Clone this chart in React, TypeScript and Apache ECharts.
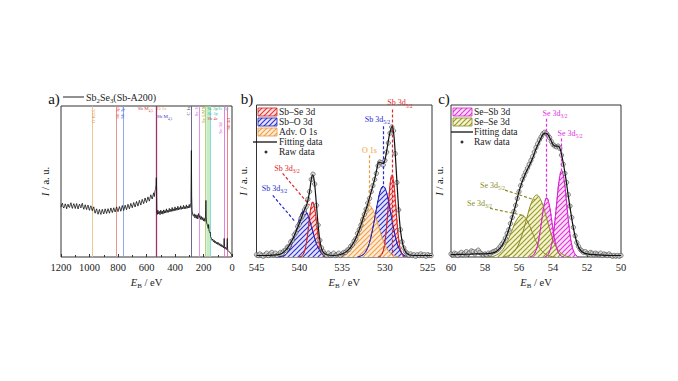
import React, { useEffect, useRef } from 'react';
import * as echarts from 'echarts';

const SERIF = '"Liberation Serif", "Times New Roman", serif';

// ---------- Panel a: survey ----------
const surveyData: [number, number][] = [
  [1200,33.0],[1195,34.9],[1190,35.6],[1185,33.2],[1180,32.4],[1175,34.0],[1170,35.2],[1165,33.6],[1160,31.9],[1155,34.4],[1150,35.0],[1145,33.1],[1140,32.8],[1135,34.7],[1130,35.9],[1125,33.4],[1120,32.2],[1115,34.1],[1110,35.3],[1105,33.8],
  [1100,32.1],[1095,34.0],[1090,35.4],[1085,33.0],[1080,31.8],[1075,33.9],[1070,35.0],[1065,33.5],[1060,32.5],[1055,34.8],[1050,35.6],[1045,33.0],[1040,31.6],[1035,33.3],[1030,34.6],[1025,32.6],[1020,31.4],[1015,33.5],[1010,34.4],[1005,32.1],
  [1000,30.9],[995,32.8],[990,33.9],[985,31.9],[980,30.6],[975,32.3],[970,33.2],[965,30.4],[960,29.0],[955,30.8],[950,31.9],[945,29.6],[940,28.3],[935,30.1],[930,31.5],[925,29.4],[920,28.2],[915,30.3],[910,31.6],[905,29.8],
  [900,28.5],[890,31.9],[880,28.8],[870,32.0],[860,29.0],[850,32.5],[840,29.4],[830,32.6],[820,29.8],[810,33.2],
  [800,30.0],[790,33.4],[780,30.3],[770,34.1],[760,30.8],[750,34.3],[740,31.3],[730,34.9],[720,31.9],[710,35.5],
  [700,32.6],[690,36.1],[680,33.1],[670,36.8],[660,33.7],[650,37.5],[640,34.4],[630,38.2],[620,35.3],[610,39.1],
  [600,36.0],[590,39.8],[580,37.0],[570,41.2],[560,38.4],[550,42.5],[545,40.0],[540,44.0],[536,44.5],[533,48.0],
  [531,52.5],[529,45.0],[527,30.5],[524,28.2],[520,31.0],[515,28.6],[510,30.2],[505,28.0],[500,31.0],[495,28.7],[490,30.4],[485,28.4],[480,31.2],[475,29.0],[470,30.8],[465,29.2],
  [460,31.9],[455,29.5],[450,31.0],[445,29.6],[440,32.2],[435,29.9],[430,31.6],[425,30.2],[420,32.8],[415,30.3],[410,31.9],[405,30.6],[400,33.2],[395,30.8],[390,32.4],[385,31.0],[380,33.6],[375,31.2],[370,32.7],[365,31.5],
  [360,33.9],[355,31.6],[350,33.0],[345,31.8],[340,34.2],[335,31.9],[330,33.4],[325,32.0],[320,34.5],[315,32.2],[310,33.7],[305,32.5],[300,34.8],[296,32.6],[292,33.8],[288,36.0],[285,70.5],
  [283,40.0],[280,31.0],[276,28.0],[270,27.0],[265,28.6],[260,25.9],[255,28.0],[250,25.6],[245,27.9],[240,25.2],
  [235,28.8],[230,26.2],[225,27.4],[220,24.9],[215,26.8],[210,24.6],[205,26.2],[200,23.8],[195,25.6],[190,23.6],
  [186,26.5],[183,37.5],[181,27.0],[178,22.5],[175,21.8],[170,20.2],[167,19.0],[164,21.5],[161,17.2],[158,16.8],
  [155,16.0],[152,16.4],[150,13.5],[145,12.5],[140,11.0],[135,11.9],[130,10.0],[125,11.1],[120,9.3],[115,10.4],
  [110,8.7],[105,9.9],[100,8.3],[95,9.5],[90,7.7],[85,8.9],[80,7.2],[75,8.3],[70,6.6],[65,7.7],
  [60,6.0],[57,7.5],[55,12.3],[53,7.0],[50,5.5],[45,6.5],[40,4.9],[36,6.0],[33,12.3],[31,5.4],
  [28,4.3],[25,4.5],[20,3.4],[15,3.3],[10,2.4],[5,1.8],[0,0.7],
];
const surveyLineEnergies = [980, 813, 766, 532, 286, 230, 190, 150, 54, 32];
const surveyLineColors = ['#eec08a', '#e88a8a', '#86a0e8', '#a03070', '#58587e', '#dc86e6', '#b8c870', '#80dada', '#e470e4', '#e87474'];
const surveyBand: [number, number] = [180, 148];
const surveyTicks = { min: 0, max: 1200, interval: 200 };

// ---------- Panel b: Sb 3d + O 1s ----------
const sbSe52: [number, number][] = [[530.77,0],[530.47,0.8],[530.17,4.6],[529.97,11.1],[529.77,22.2],[529.57,36.4],[529.37,48.9],[529.17,54],[528.97,48.9],[528.77,36.4],[528.57,22.2],[528.37,11.1],[528.17,4.6],[527.87,0.8],[527.57,0]];
const sbSe32: [number, number][] = [[540.03,0],[539.73,0.5],[539.43,3.1],[539.23,7.5],[539.03,14.9],[538.83,24.5],[538.63,32.9],[538.43,36.3],[538.23,32.9],[538.03,24.5],[537.83,14.9],[537.63,7.5],[537.43,3.1],[537.13,0.5],[536.83,0]];
const sbO52: [number, number][] = [[533.2,0],[532.8,0.7],[532.4,2.3],[532.0,6.3],[531.7,11.6],[531.4,19.2],[531.1,28.3],[530.8,37.3],[530.5,44.1],[530.2,46.6],[529.9,44.1],[529.6,37.3],[529.3,28.3],[529.0,19.2],[528.7,11.6],[528.4,6.3],[528.0,2.3],[527.6,0.7],[527.2,0]];
const sbO32: [number, number][] = [[542.42,0],[542.02,0.5],[541.62,1.5],[541.22,4.2],[540.92,7.7],[540.62,12.7],[540.32,18.7],[540.02,24.6],[539.72,29.1],[539.42,30.8],[539.12,29.1],[538.82,24.6],[538.52,18.7],[538.22,12.7],[537.92,7.7],[537.62,4.2],[537.22,1.5],[536.82,0.5],[536.42,0]];
const advO1s: [number, number][] = [[535.37,0],[534.87,0.8],[534.37,2.6],[533.87,6.5],[533.47,11.8],[533.07,18.7],[532.67,26.1],[532.27,31.8],[531.87,34],[531.47,31.8],[531.07,26.1],[530.67,18.7],[530.27,11.8],[529.87,6.5],[529.37,2.6],[528.87,0.8],[528.37,0]];
const fitB: [number, number][] = [[545,1],[544,1],[543,1.2],[542.4,1.6],[542,2.5],[541.6,4.5],[541.2,7.5],[540.8,11.5],[540.4,16.5],[540,22],[539.7,26.5],[539.4,31],[539.1,35],[538.8,43],[538.6,51],[538.43,54],[538.25,50],[538.05,38],[537.85,24],[537.65,13],[537.45,6.5],[537.2,3],[536.8,1.5],[536,1],[535.3,1.5],[534.8,2.5],[534.4,4],[534,6.5],[533.6,10],[533.2,15],[532.8,21],[532.4,28],[532,35],[531.6,43],[531.2,51],[530.9,59],[530.72,62.5],[530.45,62],[530.18,61.5],[529.95,65],[529.7,73],[529.45,81],[529.17,86],[528.95,80],[528.75,64],[528.55,45],[528.35,28],[528.15,16],[527.9,8],[527.6,3.5],[527.2,1.5],[526.5,1],[524.5,1]];
const rawB: [number, number][] = [[545,1.5],[544.8,1],[544.6,2],[544.4,1],[544.2,0.5],[544,1.5],[543.8,2.5],[543.6,1],[543.4,2],[543.2,3],[543,1.5],[542.8,2.5],[542.6,1],[542.4,2],[542.2,3],[542,2.5],[541.8,4],[541.6,4.5],[541.4,6.5],[541.2,7],[541,10],[540.8,11],[540.6,14.5],[540.4,16],[540.2,20],[540,21.5],[539.8,25.5],[539.6,27],[539.4,31],[539.2,33],[539,38],[538.8,43],[538.6,51],[538.4,54.5],[538.2,48],[538,34],[537.8,21],[537.6,11],[537.4,6],[537.2,3.5],[537,2],[536.8,1],[536.6,2.5],[536.4,1],[536.2,1.5],[536,2.5],[535.8,1],[535.6,1.5],[535.4,2.5],[535.2,1],[535,2],[534.8,3],[534.6,3],[534.4,4.5],[534.2,5],[534,7],[533.8,8],[533.6,10.5],[533.4,12],[533.2,15.5],[533,18],[532.8,21],[532.6,24.5],[532.4,28],[532.2,31.5],[532,35.5],[531.8,38.5],[531.6,43],[531.4,47],[531.2,51],[531,55],[530.8,60],[530.6,62.5],[530.4,62],[530.2,60.5],[530,63.5],[529.8,69],[529.6,75],[529.4,81.5],[529.2,85.5],[529,83],[528.8,68],[528.6,49],[528.4,31],[528.2,18],[528,10],[527.8,6],[527.6,3.5],[527.4,2.5],[527.2,1],[527,2],[526.8,1],[526.6,1.5],[526.4,0.5],[526.2,1.5],[526,1],[525.8,2],[525.6,1],[525.4,1.5],[525.2,0.5],[525,1.5],[524.8,1],[524.6,1]];
const ticksB = [525, 530, 535, 540, 545];

// ---------- Panel c: Se 3d ----------
const seSb52: [number, number][] = [[54.49,0],[54.29,1.6],[54.09,7.7],[53.94,18.5],[53.79,34.6],[53.64,50.3],[53.49,57],[53.34,50.3],[53.19,34.6],[53.04,18.5],[52.89,7.7],[52.69,1.6],[52.49,0]];
const seSb32: [number, number][] = [[55.37,0],[55.17,1.1],[54.97,5.3],[54.82,12.7],[54.67,23.7],[54.52,34.4],[54.37,39],[54.22,34.4],[54.07,23.7],[53.92,12.7],[53.77,5.3],[53.57,1.1],[53.37,0]];
const seSe52: [number, number][] = [[56.96,0],[56.56,1.2],[56.16,5.5],[55.86,13.3],[55.56,24.8],[55.26,36],[54.96,40.8],[54.66,36],[54.36,24.8],[54.06,13.3],[53.76,5.5],[53.36,1.2],[52.96,0]];
const seSe32: [number, number][] = [[57.84,0],[57.44,0.8],[57.04,3.7],[56.74,9],[56.44,16.8],[56.14,24.3],[55.84,27.6],[55.54,24.3],[55.24,16.8],[54.94,9],[54.64,3.7],[54.24,0.8],[53.84,0]];
const fitC: [number, number][] = [[60,1.5],[59,1.8],[58.5,2],[58,2],[57.6,2.5],[57.3,4],[57.0,7.5],[56.8,12],[56.6,18],[56.4,26],[56.2,34],[56.0,43],[55.8,50],[55.6,55.5],[55.4,60],[55.2,65],[55.0,71],[54.8,76],[54.6,80.5],[54.45,81.5],[54.3,80.5],[54.15,77.5],[54.0,74],[53.85,73],[53.7,73],[53.55,70],[53.4,62],[53.25,52],[53.1,40],[52.95,29],[52.8,19],[52.65,11.5],[52.5,6.5],[52.3,3.5],[52.0,2],[51.5,1.5],[50.5,1],[50,1]];
const rawC: [number, number][] = [[60,2],[59.9,1.5],[59.8,2.5],[59.7,2],[59.6,1],[59.5,2],[59.4,3],[59.3,1.5],[59.2,2.5],[59.1,3.5],[59,2],[58.9,3],[58.8,4],[58.7,3.5],[58.6,2],[58.5,3.5],[58.4,4.5],[58.3,3],[58.2,2],[58.1,1.5],[58,2],[57.9,1.5],[57.8,2.5],[57.7,2],[57.6,3],[57.5,3.5],[57.4,4],[57.3,4.5],[57.2,5.5],[57.1,7],[57,8.5],[56.9,10],[56.8,12.5],[56.7,15.5],[56.6,18],[56.5,22],[56.4,26],[56.3,30],[56.2,34],[56.1,38.5],[56,43],[55.9,47],[55.8,51],[55.7,53.5],[55.6,56],[55.5,58.5],[55.4,61],[55.3,63.5],[55.2,66],[55.1,69],[55,72],[54.9,74.5],[54.8,77],[54.7,79],[54.6,81],[54.5,82],[54.4,81.5],[54.3,80],[54.2,78.5],[54.1,76],[54,74],[53.9,73],[53.8,72.5],[53.7,73],[53.6,71.5],[53.5,67],[53.4,61],[53.3,55],[53.2,49],[53.1,41],[53,33.5],[52.9,26],[52.8,19.5],[52.7,14],[52.6,9.5],[52.5,7],[52.4,5],[52.3,4],[52.2,3],[52.1,3.5],[52,2.5],[51.9,2],[51.8,3],[51.7,2.5],[51.6,1.5],[51.5,2.5],[51.4,2],[51.3,1.5],[51.2,2.5],[51.1,1],[51,2],[50.9,1.5],[50.8,1],[50.7,2],[50.6,1],[50.5,0.5],[50.4,1],[50.3,0.5],[50.2,1],[50.1,0.5],[50,1]];
const ticksC = { min: 50, max: 60, interval: 2 };

const COL = {
  red: { line: '#d82020', bg: '#fbe1e1', fg: '#e33a3a', text: '#e02828' },
  blue: { line: '#2020b8', bg: '#e3e3fb', fg: '#3535c8', text: '#2a2ad0' },
  orange: { line: '#e89840', bg: '#fdebd6', fg: '#f0a04a', text: '#ef9a3a' },
  magenta: { line: '#d820d0', bg: '#fbe0f8', fg: '#e03ad8', text: '#e030e0' },
  olive: { line: '#8a8a20', bg: '#f4f4cf', fg: '#9a9a30', text: '#8c8c28' },
};

function hatch(bg: string, fg: string) {
  const s = 5;
  const c = document.createElement('canvas');
  c.width = s; c.height = s;
  const ctx = c.getContext('2d')!;
  ctx.fillStyle = bg; ctx.fillRect(0, 0, s, s);
  ctx.strokeStyle = fg; ctx.lineWidth = 1.2;
  ctx.beginPath();
  ctx.moveTo(0, s); ctx.lineTo(s, 0);
  ctx.moveTo(-s / 2, s / 2); ctx.lineTo(s / 2, -s / 2);
  ctx.moveTo(s / 2, s * 1.5); ctx.lineTo(s * 1.5, s / 2);
  ctx.stroke();
  return { image: c, repeat: 'repeat', imageWidth: s, imageHeight: s } as any;
}

function richSub(size: number, color: string) {
  return {
    n: { fontSize: size, fontFamily: SERIF, fill: color, color, lineHeight: size + 3, verticalAlign: 'middle' },
    s: { fontSize: Math.round(size * 0.68 * 10) / 10, fontFamily: SERIF, fill: color, color, lineHeight: size * 0.7, verticalAlign: 'bottom' },
  };
}

function label(x: number, y: number, main: string, sub: string, color: string, size = 8, align = 'center', rot = 0) {
  return {
    type: 'text', x, y, rotation: rot, silent: true, z: 100,
    style: {
      text: sub ? `{n|${main}}{s|${sub}}` : `{n|${main}}`,
      rich: richSub(size, color), fill: color, fontSize: size, fontFamily: SERIF,
      align, verticalAlign: 'middle',
    },
  };
}

const App: React.FC = () => {
  const ref = useRef<HTMLDivElement>(null);
  useEffect(() => {
    if (!ref.current) return;
    const chart = echarts.init(ref.current, null, { renderer: 'svg' });
    const P = {
      red: hatch(COL.red.bg, COL.red.fg),
      blue: hatch(COL.blue.bg, COL.blue.fg),
      orange: hatch(COL.orange.bg, COL.orange.fg),
      magenta: hatch(COL.magenta.bg, COL.magenta.fg),
      olive: hatch(COL.olive.bg, COL.olive.fg),
    };

    const axisNameStyle = {
      fontFamily: SERIF, fontSize: 10.5, color: '#222',
      rich: {
        i: { fontFamily: SERIF, fontSize: 10.5, fontStyle: 'italic', color: '#222', lineHeight: 14, verticalAlign: 'middle' },
        s: { fontFamily: SERIF, fontSize: 7, color: '#222', lineHeight: 8, verticalAlign: 'bottom' },
        n: { fontFamily: SERIF, fontSize: 10.5, color: '#222', lineHeight: 14, verticalAlign: 'middle' },
      },
    };
    const xBase = (gi: number) => ({
      type: 'value', gridIndex: gi, inverse: true,
      axisLine: { show: false },
      axisTick: { inside: true, length: 3, lineStyle: { color: '#333' } },
      minorTick: { show: gi !== 1, splitNumber: 2, length: 2, lineStyle: { color: '#333' } },
      splitLine: { show: false },
      axisLabel: { fontFamily: SERIF, fontSize: 10.5, color: '#222', margin: 5, formatter: (v: number) => String(v) },
      name: '{i|E}{s|B}{n| / eV}', nameLocation: 'middle', nameGap: 18,
      nameTextStyle: axisNameStyle,
    });

    const area = (name: string, data: any, gi: number, c: any, pat: any) => ({
      type: 'line', name, data, xAxisIndex: gi, yAxisIndex: gi, smooth: 0.4,
      showSymbol: false, symbol: 'none', silent: true, z: 2,
      color: c.line, lineStyle: { color: c.line, width: 1 },
      areaStyle: { color: pat, opacity: 1 }, emphasis: { disabled: true },
    });
    const dash = (data: any, gi: number, c: any) => ({
      type: 'line', data, xAxisIndex: gi, yAxisIndex: gi, smooth: 0.4,
      showSymbol: false, symbol: 'none', silent: true, z: 3,
      lineStyle: { color: c.line, width: 0.9, type: [3, 2] }, emphasis: { disabled: true },
    });
    const raw = (data: any, gi: number) => ({
      type: 'scatter', data, xAxisIndex: gi, yAxisIndex: gi, symbol: 'circle', symbolSize: 4.4,
      silent: true, z: 4, itemStyle: { color: '#d6d6d6', borderColor: '#3a3a3a', borderWidth: 0.7 },
    });
    const mlPair = (x1: number, y1: number, x2: number, y2: number, color: string) => ([
      { coord: [x1, y1], lineStyle: { color, type: [3, 2], width: 1.2 } },
      { coord: [x2, y2] },
    ]);
    const fit = (data: any, gi: number, lines: any[]) => ({
      type: 'line', data, xAxisIndex: gi, yAxisIndex: gi, smooth: 0.3, showSymbol: false, symbol: 'none',
      silent: true, z: 5, lineStyle: { color: '#111', width: 1.2 }, emphasis: { disabled: true },
      markLine: { silent: true, symbol: ['none', 'none'], label: { show: false }, data: lines, animation: false },
    });

    const legendRow = (x: number, y: number, pat: any, stroke: string, text: string) => ([
      { type: 'rect', shape: { x, y: y - 4, width: 19, height: 8 }, style: { fill: pat, stroke, lineWidth: 0.8 }, silent: true, z: 100 },
      { type: 'text', x: x + 21, y, silent: true, z: 100, style: { text, fill: '#222', fontSize: 9.5, fontFamily: SERIF, align: 'left', verticalAlign: 'middle' } },
    ]);
    const legendLine = (x1: number, x2: number, y: number, tx: number) => ([
      { type: 'line', shape: { x1, y1: y, x2, y2: y }, style: { stroke: '#111', lineWidth: 1.3 }, silent: true, z: 100 },
      { type: 'text', x: tx, y, silent: true, z: 100, style: { text: 'Fitting data', fill: '#222', fontSize: 9.5, fontFamily: SERIF, align: 'left', verticalAlign: 'middle' } },
    ]);
    const legendDot = (cx: number, y: number, tx: number) => ([
      { type: 'circle', shape: { cx, cy: y, r: 1.5 }, style: { fill: '#333' }, silent: true, z: 100 },
      { type: 'text', x: tx, y, silent: true, z: 100, style: { text: 'Raw data', fill: '#222', fontSize: 9.5, fontFamily: SERIF, align: 'left', verticalAlign: 'middle' } },
    ]);

    const S = 5;
    const R = Math.PI / 2;
    const graphic: any[] = [
      { type: 'text', x: 54, y: 99, silent: true, style: { text: 'a)', fontSize: 15, fontFamily: SERIF, fill: '#111', align: 'center', verticalAlign: 'middle' } },
      { type: 'text', x: 247, y: 99, silent: true, style: { text: 'b)', fontSize: 15, fontFamily: SERIF, fill: '#111', align: 'center', verticalAlign: 'middle' } },
      { type: 'text', x: 444, y: 99, silent: true, style: { text: 'c)', fontSize: 15, fontFamily: SERIF, fill: '#111', align: 'center', verticalAlign: 'middle' } },
      { type: 'line', shape: { x1: 63, y1: 97, x2: 84, y2: 97 }, style: { stroke: '#222', lineWidth: 1 }, silent: true },
      {
        type: 'text', x: 86, y: 97, silent: true,
        style: {
          text: '{n|Sb}{s|2}{n|Se}{s|3}{n|(Sb-A200)}', rich: richSub(10, '#222'),
          fontSize: 10, fontFamily: SERIF, fill: '#222', align: 'left', verticalAlign: 'middle',
        },
      },
      label(93.5, 116, 'O KLL', '', '#e0a060', S, 'center', R),
      label(117.5, 113, 'Sb 3p', '', '#e06060', S, 'center', R),
      label(122.5, 113, 'Sb 3p', '', '#5070d8', S, 'center', R),
      label(153, 108, 'Sb M', '4,5', '#d04040', S, 'right'),
      label(157, 108, 'O 1s', '', '#e0a060', S, 'left'),
      label(157, 116, 'Sb M', '4,5', '#4040c0', S, 'left'),
      label(188, 111, 'C 1s', '', '#333', S, 'center', R),
      label(196, 111, 'Se 3s', '', '#d060e0', S, 'center', R),
      label(203, 114, 'Se LMM', '', '#9aa830', S, 'center', R),
      label(207.5, 108, 'Se 3p', '', '#40b040', 4.5, 'left'),
      label(218, 108, 'Se 3p', '', '#30c0c8', 4.5, 'left'),
      label(207.5, 113, 'Se 3p', '', '#30c0c8', 4.5, 'left'),
      label(207.5, 118, 'Sb 4s', '', '#d04040', 4.5, 'left'),
      label(220.5, 128, 'Se 3d', '', '#e050e0', S, 'center', R),
      label(228, 124, 'Sb 4d', '', '#e05050', S, 'center', R),
      label(400, 102.5, 'Sb 3d', '5/2', COL.red.text),
      label(377.5, 119, 'Sb 3d', '5/2', COL.blue.text),
      label(369.5, 150, 'O 1s', '', COL.orange.text),
      label(287, 168, 'Sb 3d', '3/2', COL.red.text),
      label(274.5, 188, 'Sb 3d', '3/2', COL.blue.text),
      label(555, 113, 'Se 3d', '3/2', COL.magenta.text),
      label(570, 133, 'Se 3d', '5/2', COL.magenta.text),
      label(492.5, 185, 'Se 3d', '5/2', COL.olive.text),
      label(479.5, 203, 'Se 3d', '3/2', COL.olive.text),
      ...legendRow(258, 112, P.red, COL.red.line, 'Sb–Se 3d'),
      ...legendRow(258, 122, P.blue, COL.blue.line, 'Sb–O 3d'),
      ...legendRow(258, 132, P.orange, COL.orange.line, 'Adv. O 1s'),
      ...legendLine(253, 277, 142, 279),
      ...legendDot(266, 152, 279),
      ...legendRow(453, 112, P.magenta, COL.magenta.line, 'Se–Sb 3d'),
      ...legendRow(453, 122, P.olive, COL.olive.line, 'Se–Se 3d'),
      ...legendLine(451, 473, 132, 474),
      ...legendDot(462, 142, 474),
    ];

    const option: any = {
      animation: false,
      textStyle: { fontFamily: SERIF },
      grid: [
        { left: 61, top: 106, width: 171, height: 151 },
        { left: 256.5, top: 105, width: 175.5, height: 152 },
        { left: 451, top: 105, width: 170, height: 152 },
      ].map((g) => ({ ...g, show: true, borderColor: '#333', borderWidth: 1, backgroundColor: 'transparent', containLabel: false })),
      xAxis: [
        { ...xBase(0), ...surveyTicks },
        {
          ...xBase(1), min: 524.5, max: 545,
          axisLabel: { ...xBase(1).axisLabel, customValues: ticksB },
          axisTick: { ...xBase(1).axisTick, customValues: ticksB },
        },
        { ...xBase(2), ...ticksC },
      ],
      yAxis: [0, 1, 2].map((i) => ({
        type: 'value', gridIndex: i, min: 0, max: 100,
        axisLabel: { show: false }, axisTick: { show: false }, splitLine: { show: false }, axisLine: { show: false },
        name: '{i|I}{n| / a. u.}', nameLocation: 'middle', nameRotate: 90, nameGap: [9, 6.5, 5][i],
        nameTextStyle: axisNameStyle,
      })),
      series: [
        {
          type: 'line', data: surveyData, xAxisIndex: 0, yAxisIndex: 0, showSymbol: false, symbol: 'none', silent: true, z: 5,
          lineStyle: { color: '#111', width: 0.8 }, emphasis: { disabled: true },
          markLine: {
            silent: true, symbol: ['none', 'none'], label: { show: false }, animation: false,
            data: surveyLineEnergies.map((e, i) => ({ xAxis: e, lineStyle: { color: surveyLineColors[i], type: 'solid', width: i === 3 ? 1.3 : 0.9 } })),
          },
          markArea: {
            silent: true, itemStyle: { color: 'rgba(150,220,150,0.55)' },
            data: [[{ xAxis: surveyBand[0] }, { xAxis: surveyBand[1] }]],
          },
        },
        area('Sb–Se 3d', sbSe52, 1, COL.red, P.red),
        area('Sb–Se 3d', sbSe32, 1, COL.red, P.red),
        area('Sb–O 3d', sbO52, 1, COL.blue, P.blue),
        area('Sb–O 3d', sbO32, 1, COL.blue, P.blue),
        area('Adv. O 1s', advO1s, 1, COL.orange, P.orange),
        dash(sbSe52, 1, COL.red), dash(sbSe32, 1, COL.red),
        dash(sbO52, 1, COL.blue), dash(sbO32, 1, COL.blue),
        raw(rawB, 1),
        fit(fitB, 1, [
          mlPair(529.17, 97, 529.17, 1, COL.red.text),
          mlPair(530.23, 86, 530.23, 46.6, COL.blue.text),
          mlPair(531.85, 67, 531.85, 34, COL.orange.text),
          mlPair(541.95, 55, 538.8, 34, COL.red.text),
          mlPair(543.1, 40.5, 540.45, 23, COL.blue.text),
        ]),
        area('Se–Sb 3d', seSb52, 2, COL.magenta, P.magenta),
        area('Se–Sb 3d', seSb32, 2, COL.magenta, P.magenta),
        area('Se–Se 3d', seSe52, 2, COL.olive, P.olive),
        area('Se–Se 3d', seSe32, 2, COL.olive, P.olive),
        dash(seSb52, 2, COL.magenta), dash(seSb32, 2, COL.magenta),
        raw(rawC, 2),
        fit(fitC, 2, [
          mlPair(54.37, 91, 54.37, 39, COL.magenta.text),
          mlPair(53.49, 78, 53.49, 57, COL.magenta.text),
          mlPair(56.82, 44, 55.06, 37.5, COL.olive.text),
          mlPair(57.7, 32, 55.84, 27.6, COL.olive.text),
        ]),
      ],
      graphic,
    };
    chart.setOption(option);
    return () => chart.dispose();
  }, []);
  return <div ref={ref} style={{ position: 'fixed', left: 0, top: 0, width: 678, height: 381, background: '#fff' }} />;
};

export default App;
